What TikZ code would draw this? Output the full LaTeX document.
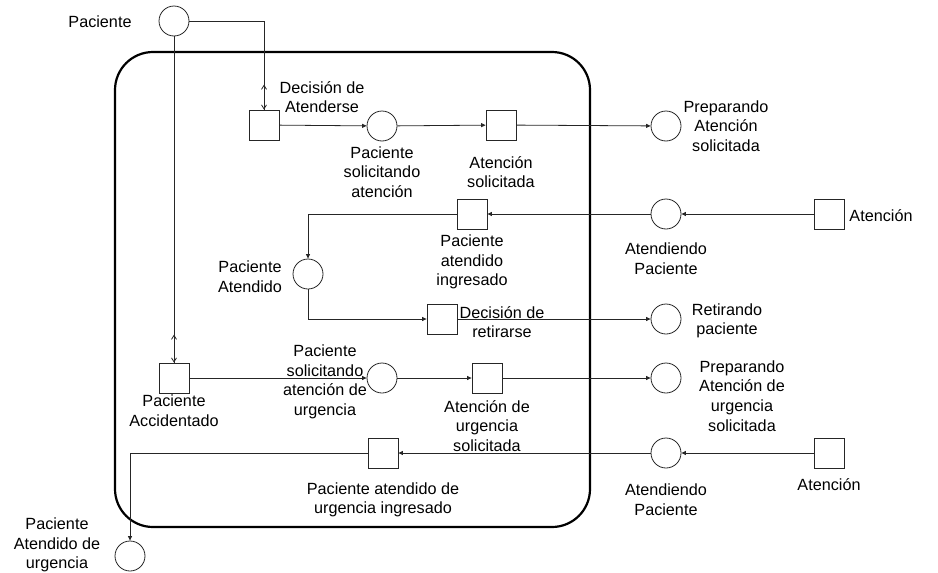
\documentclass[tikz,border=0pt]{standalone}
\usepackage{fontspec}
\setmainfont{Liberation Sans}
\usetikzlibrary{arrows.meta}
\begin{document}
\begin{tikzpicture}[x=1pt,y=-1pt,
  every node/.style={font=\fontsize{16.2}{19.6}\selectfont},
  place/.style={draw=black!85, line width=0.8pt, circle, minimum size=30pt, inner sep=0pt, fill=white},
  trans/.style={draw=black!85, line width=0.8pt, rectangle, minimum size=30pt, inner sep=0pt, fill=white},
  lbl/.style={align=center, inner sep=0pt},
  arc/.style={draw=black!85, line width=0.8pt, -{Triangle[length=4.5pt,width=4pt]}},
  barb/.style={draw=black!85, line width=0.8pt, -{Straight Barb[length=4pt,width=5pt]}},
  frame/.style={draw=black, line width=2.2pt, rounded corners=38pt}]
\useasboundingbox (0,0) rectangle (938,573);

% subsystem boundary
\draw[frame] (115,52) rectangle (590,527);

% places
\node[place] (p0)   at (174,21)  {};
\node[place] (psa)  at (382,126) {};
\node[place] (pas)  at (666,126) {};
\node[place] (ap1)  at (666,214) {};
\node[place] (pAt)  at (308,274) {};
\node[place] (rp)   at (666,319) {};
\node[place] (psu)  at (382,378) {};
\node[place] (pau)  at (666,378) {};
\node[place] (ap2)  at (666,453) {};
\node[place] (pAu)  at (130,556) {};

% transitions
\node[trans] (dA)   at (264,125) {};
\node[trans] (as)   at (501,125) {};
\node[trans] (pai)  at (472,214) {};
\node[trans] (at1)  at (829,214) {};
\node[trans] (dr)   at (442,319) {};
\node[trans] (pAcc) at (174,378) {};
\node[trans] (aus)  at (487,378) {};
\node[trans] (paui) at (383,453) {};
\node[trans] (at2)  at (829,453) {};

% labels
\node[lbl] (lp0)   at (100,22)  {Paciente};
\node[lbl] (ldA)   at (322,97)  {Decisión de\\Atenderse};
\node[lbl] (lpsa)  at (382,172) {Paciente\\solicitando\\atención};
\node[lbl] (las)   at (501,172) {Atención\\solicitada};
\node[lbl] (lpas)  at (726,126) {Preparando\\Atención\\solicitada};
\node[lbl] (lpai)  at (472,262) {Paciente\\atendido\\ingresado};
\node[lbl] (lap1)  at (666,259) {Atendiendo\\Paciente};
\node[lbl] (lat1)  at (881,216) {Atención};
\node[lbl] (lpAt)  at (250,277) {Paciente\\Atendido};
\node[lbl] (ldr)   at (502,322) {Decisión de\\retirarse};
\node[lbl] (lrp)   at (727,321) {Retirando\\paciente};
\node[lbl] (lpAcc) at (174,411) {Paciente\\Accidentado};
\node[lbl] (lpsu)  at (325,382) {Paciente\\solicitando\\atención de\\urgencia};
\node[lbl] (laus)  at (487,426) {Atención de\\urgencia\\solicitada};
\node[lbl] (lpau)  at (742,396) {Preparando\\Atención de\\urgencia\\solicitada};
\node[lbl] (lap2)  at (666,500) {Atendiendo\\Paciente};
\node[lbl] (lat2)  at (829,485) {Atención};
\node[lbl] (lpaui) at (383,500) {Paciente atendido de\\urgencia ingresado};
\node[lbl] (lpAu)  at (57,545)  {Paciente\\Atendido de\\urgencia};

% two-way arcs from the patient place
\draw[barb] (p0.east) -| (dA.north);
\draw[barb] (dA.north) -- ++(0,-25);
\draw[barb] (p0.south) -- (pAcc.north);
\draw[barb] (pAcc.north) -- ++(0,-28);

% ordinary attention flow
\draw[arc] (dA) -- (psa);
\draw[arc] (psa) -- (as);
\draw[arc] (as) -- (pas);
\draw[arc] (at1) -- (ap1);
\draw[arc] (ap1) -- (pai);
\draw[arc] (pai.west) -| (pAt.north);
\draw[arc] (pAt.south) |- (dr.west);
\draw[arc] (dr) -- (rp);

% emergency flow
\draw[arc] (pAcc) -- (psu);
\draw[arc] (psu) -- (aus);
\draw[arc] (aus) -- (pau);
\draw[arc] (at2) -- (ap2);
\draw[arc] (ap2) -- (paui);
\draw[arc] (paui.west) -| (pAu.north);
\end{tikzpicture}
\end{document}
